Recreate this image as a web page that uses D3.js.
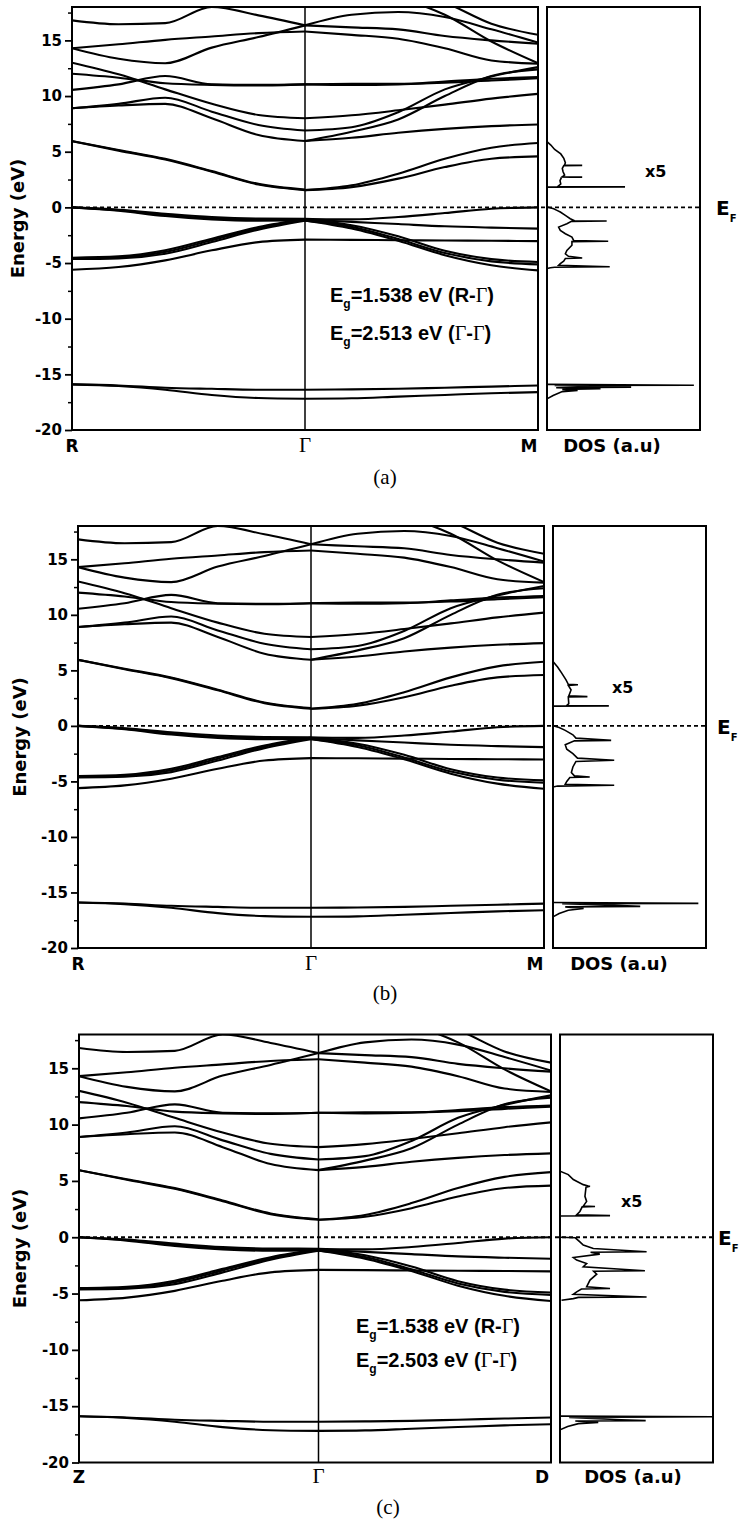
<!DOCTYPE html>
<html>
<head>
<meta charset="utf-8">
<script src="https://cdn.jsdelivr.net/npm/d3@7"></script>
<style>
  body { margin: 0; background: #fff; }
  svg { display: block; }
</style>
</head>
<body>
<svg id="chart" width="740" height="1526"></svg>
<script>
// ---- data ----
// k path: 0 = R (or Z), 1 = Gamma, 2 = M (or D)
var kLeft = [0, 0.2, 0.4, 0.6, 0.8, 1];
var kRight = [1, 1.2, 1.4, 1.6, 1.8, 2];

// bands R -> Gamma (eV)
var bandsLeft = [
  [16.8, 16.45, 16.55, 18.0, 17.25, 16.35],
  [14.3, 14.65, 15.05, 15.35, 15.65, 15.8],
  [14.3, 13.35, 12.95, 14.35, 15.3, 16.35],
  [13.0, 11.95, 10.6, 9.3, 8.3, 8.0],
  [12.0, 11.65, 11.15, 11.0, 10.95, 11.05],
  [10.55, 11.05, 11.8, 11.05, 11.0, 11.05],
  [8.9, 9.3, 9.85, 8.6, 7.4, 6.9],
  [8.9, 9.15, 9.3, 8.0, 6.5, 5.96],
  [5.95, 5.1, 4.3, 3.2, 2.05, 1.55],
  [5.95, 5.15, 4.36, 3.26, 2.11, 1.6],
  [0.0, -0.21, -0.57, -0.87, -1.0, -1.02],
  [0.0, -0.3, -0.78, -1.08, -1.2, -1.17],
  [0.0, -0.25, -0.68, -0.98, -1.1, -1.1],
  [-4.52, -4.4, -3.86, -2.81, -1.77, -1.05],
  [-4.64, -4.58, -4.16, -3.12, -2.0, -1.2],
  [-4.58, -4.5, -4.0, -2.95, -1.88, -1.12],
  [-5.6, -5.36, -4.76, -3.86, -3.12, -2.9],
  [-15.9, -16.0, -16.2, -16.3, -16.38, -16.38],
  [-15.9, -16.05, -16.38, -16.86, -17.13, -17.19]
];

// bands Gamma -> M (eV)
var bandsRight = [
  [16.35, 17.3, 17.55, 17.1, 16.0, 14.8],
  [15.8, 15.5, 15.15, 14.3, 13.2, 12.9],
  [16.35, 16.17, 15.99, 15.39, 15.0, 14.7],
  [19.8, 19.5, 18.8, 17.3, 14.9, 12.95],
  [20.5, 20.2, 19.6, 18.4, 16.5, 15.5],
  [11.05, 11.1, 11.1, 11.2, 11.4, 11.6],
  [11.05, 11.0, 11.05, 11.3, 11.55, 11.7],
  [8.0, 8.27, 8.72, 9.23, 9.77, 10.2],
  [6.9, 7.2, 8.55, 10.6, 11.75, 12.6],
  [5.96, 6.8, 7.9, 10.0, 11.8, 12.4],
  [5.96, 6.25, 6.7, 7.05, 7.3, 7.45],
  [1.55, 1.98, 3.03, 4.37, 5.36, 5.78],
  [1.55, 1.82, 2.58, 3.62, 4.37, 4.58],
  [-1.02, -1.08, -0.87, -0.51, -0.12, 0.0],
  [-1.1, -1.3, -1.5, -1.7, -1.82, -1.91],
  [-1.1, -1.6, -2.6, -3.9, -4.65, -4.91],
  [-1.2, -1.75, -2.85, -4.1, -4.85, -5.12],
  [-1.17, -1.9, -3.0, -4.3, -5.2, -5.66],
  [-2.9, -2.92, -2.95, -2.98, -3.0, -3.03],
  [-16.38, -16.35, -16.3, -16.2, -16.1, -16.0],
  [-17.19, -17.15, -17.0, -16.85, -16.7, -16.6]
];

// DOS curves, [energy, DOS in % of box width]
var dosCondA = [[5.9,0],[5.6,2.5],[5.2,5],[4.8,9],[4.4,11],[4.0,12],[3.8,11.5],[3.77,23],[3.75,11],[3.5,10],[3.2,10.5],[2.9,11.5],[2.75,10],[2.72,23],[2.7,9.5],[2.4,8.5],[2.1,9],[1.87,7],[1.84,51],[1.82,0]];
var dosValA = [[0.03,0],[-0.12,4.4],[-0.27,6.5],[-0.42,8.7],[-0.72,12],[-1.02,15.2],[-1.2,18],[-1.23,39],[-1.26,16],[-1.47,13],[-1.77,7.6],[-2.07,8.7],[-2.37,12],[-2.67,16.3],[-2.97,17.4],[-3.04,40],[-3.08,16.3],[-3.4,16.3],[-3.87,13],[-4.17,12],[-4.4,14],[-4.55,23],[-4.6,12],[-4.83,10.9],[-5.06,8.7],[-5.21,7.6],[-5.33,41],[-5.38,5],[-5.42,2.2],[-5.5,0]];
var dosCoreA = [[-15.9,0],[-15.98,96],[-16.0,5],[-16.1,30],[-16.15,55],[-16.2,6],[-16.3,35],[-16.35,10],[-16.45,20],[-16.55,10],[-16.9,4],[-17.2,0]];

var dosCondB = [[5.8,0],[5.3,3],[4.77,5.6],[4.14,8.5],[3.75,10],[3.7,16.3],[3.65,10],[3.24,11.8],[2.7,10.3],[2.64,22.5],[2.6,10],[2.0,10.3],[1.83,9],[1.8,36.5],[1.78,0]];
var dosValB = [[0.03,0],[-0.15,4],[-0.4,8],[-0.8,13],[-1.1,15],[-1.3,38],[-1.35,14],[-1.7,8],[-2.1,9],[-2.5,13],[-2.9,16],[-3.1,40],[-3.2,15],[-3.7,13],[-4.2,12],[-4.5,14],[-4.6,24],[-4.65,11],[-5.0,9],[-5.25,8],[-5.35,40],[-5.42,3],[-5.5,0]];
var dosCoreB = [[-15.9,0],[-15.98,95],[-16.02,6],[-16.15,40],[-16.25,57],[-16.3,8],[-16.45,20],[-16.6,10],[-16.9,4],[-17.2,0]];

var dosCondC = [[5.86,0],[5.56,5.4],[5.12,8.7],[4.67,15.2],[4.55,18.5],[4.52,19.6],[4.45,17],[3.63,16.3],[3.18,17.4],[2.76,15.2],[2.73,22.9],[2.7,14.5],[2.29,13],[1.99,10.9],[1.92,32.7],[1.88,0]];
var dosValC = [[0.0,0],[-0.05,10],[-0.41,13],[-0.7,15.2],[-1.0,21.8],[-1.29,56.6],[-1.33,20],[-1.5,26],[-1.8,8.7],[-2.03,10.9],[-2.33,17.4],[-2.62,15.2],[-2.98,55.5],[-3.02,22],[-3.28,24],[-3.8,19.6],[-4.4,17.4],[-4.55,32.7],[-4.6,14],[-4.85,10.9],[-5.06,8.7],[-5.3,56.6],[-5.34,12],[-5.45,8.7],[-5.6,1]];
var dosCoreC = [[-15.88,0],[-15.94,100],[-16.0,6],[-16.2,40],[-16.28,56],[-16.32,10],[-16.45,25],[-16.55,12],[-16.8,5],[-17.1,0]];

var yTicks = [-20, -15, -10, -5, 0, 5, 10, 15];
var yMinor = [-17.5, -12.5, -7.5, -2.5, 2.5, 7.5, 12.5, 17.5];

var labelsA = ["R", "\u0393", "M"];
var labelsB = ["R", "\u0393", "M"];
var labelsC = ["Z", "\u0393", "D"];
var egA = ["1.538 eV (R-\u0393)", "2.513 eV (\u0393-\u0393)"];
var egC = ["1.538 eV (R-\u0393)", "2.503 eV (\u0393-\u0393)"];
var tags = ["(a)", "(b)", "(c)"];

// ---- layout ----
var SANS = "'DejaVu Sans', sans-serif";
var ARIAL = "'Liberation Sans', Arial, sans-serif";
var SERIF = "'Liberation Serif', 'Times New Roman', serif";
var INK = "#000";

var panels = [
  {labels: labelsA, eg: egA, dos: [dosCondA, dosValA, dosCoreA],
   left: 72, gamma: 305, right: 538, dosL: 547, dosR: 700, top: 7, bottom: 430,
   yLabelX: 18, kLabelY: 452, tagX: 385, tagY: 484, dosLabelX: 612,
   efX: 716, x5: [645, 177], egX: 330, egY: [301.5, 339.5]},
  {labels: labelsB, eg: null, dos: [dosCondB, dosValB, dosCoreB],
   left: 78, gamma: 311, right: 544, dosL: 553, dosR: 706, top: 526, bottom: 948,
   yLabelX: 20, kLabelY: 970, tagX: 385, tagY: 1000, dosLabelX: 619,
   efX: 717, x5: [612, 693]},
  {labels: labelsC, eg: egC, dos: [dosCondC, dosValC, dosCoreC],
   left: 79, gamma: 318.5, right: 551, dosL: 560, dosR: 713, top: 1034.5, bottom: 1462.5,
   yLabelX: 20, kLabelY: 1483, tagX: 388, tagY: 1514, dosLabelX: 633,
   efX: 718, x5: [621, 1207], egX: 356, egY: [1333, 1367]}
];

var svg = d3.select("#chart");
var defs = svg.append("defs");

function drawEg(g, x, yb, s) {
  var t = g.append("text").attr("x", x).attr("y", yb).attr("fill", INK)
    .attr("font-family", ARIAL).attr("font-weight", "bold").attr("font-size", 20);
  t.append("tspan").text("E");
  t.append("tspan").attr("font-size", 12).attr("dy", 6).text("g");
  var parts = s.split("\u0393");
  t.append("tspan").attr("dy", -6).text("=" + parts[0]);
  for (var k = 1; k < parts.length; k++) {
    t.append("tspan").attr("font-family", SERIF).attr("font-weight", "normal").text("\u0393");
    t.append("tspan").text(parts[k]);
  }
}

panels.forEach(function(p, i) {
  var g = svg.append("g");

  var x = d3.scaleLinear().domain([0, 1, 2]).range([p.left, p.gamma, p.right]);
  var y = d3.scaleLinear().domain([-20, 18]).range([p.bottom, p.top]);
  var xd = d3.scaleLinear().domain([0, 100]).range([p.dosL, p.dosR]);

  defs.append("clipPath").attr("id", "band" + i).append("rect")
    .attr("x", p.left).attr("y", p.top)
    .attr("width", p.right - p.left).attr("height", p.bottom - p.top);
  defs.append("clipPath").attr("id", "dos" + i).append("rect")
    .attr("x", p.dosL).attr("y", p.top)
    .attr("width", p.dosR - p.dosL).attr("height", p.bottom - p.top);

  // bands
  var line = d3.line().curve(d3.curveMonotoneX);
  var bg = g.append("g").attr("clip-path", "url(#band" + i + ")")
    .attr("fill", "none").attr("stroke", INK).attr("stroke-width", 2.1)
    .attr("stroke-linejoin", "round");
  bandsLeft.forEach(function(b) {
    bg.append("path").attr("d", line(b.map(function(e, j) { return [x(kLeft[j]), y(e)]; })));
  });
  bandsRight.forEach(function(b) {
    bg.append("path").attr("d", line(b.map(function(e, j) { return [x(kRight[j]), y(e)]; })));
  });

  // DOS
  var dline = d3.line().x(function(d) { return xd(d[1]); }).y(function(d) { return y(d[0]); });
  var dg = g.append("g").attr("clip-path", "url(#dos" + i + ")")
    .attr("fill", "none").attr("stroke", INK).attr("stroke-width", 1.6);
  p.dos.forEach(function(seg) { dg.append("path").attr("d", dline(seg)); });

  // Fermi level
  g.append("line").attr("x1", p.left).attr("x2", p.dosR).attr("y1", y(0)).attr("y2", y(0))
    .attr("stroke", INK).attr("stroke-width", 1.8).attr("stroke-dasharray", "4,3");

  // Gamma line and frames
  g.append("line").attr("x1", x(1)).attr("x2", x(1)).attr("y1", p.top).attr("y2", p.bottom)
    .attr("stroke", INK).attr("stroke-width", 1.5);
  g.append("rect").attr("x", p.left).attr("y", p.top)
    .attr("width", p.right - p.left).attr("height", p.bottom - p.top)
    .attr("fill", "none").attr("stroke", INK).attr("stroke-width", 2);
  g.append("rect").attr("x", p.dosL).attr("y", p.top)
    .attr("width", p.dosR - p.dosL).attr("height", p.bottom - p.top)
    .attr("fill", "none").attr("stroke", INK).attr("stroke-width", 2);

  // y axis
  var ax = g.append("g").attr("transform", "translate(" + p.left + ",0)")
    .call(d3.axisLeft(y).tickValues(yTicks).tickSize(7).tickPadding(3)
      .tickFormat(function(d) { return String(d); }));
  ax.select(".domain").remove();
  ax.selectAll("line").attr("stroke", INK).attr("stroke-width", 1.8);
  ax.selectAll("text").attr("font-family", SANS).attr("font-weight", "bold")
    .attr("font-size", 15).attr("fill", INK);
  var axm = g.append("g").attr("transform", "translate(" + p.left + ",0)")
    .call(d3.axisLeft(y).tickValues(yMinor).tickSize(4).tickFormat(""));
  axm.select(".domain").remove();
  axm.selectAll("line").attr("stroke", INK).attr("stroke-width", 1.5);

  var ymid = (p.top + p.bottom) / 2;
  g.append("text").attr("transform", "translate(" + (p.yLabelX + 6) + "," + ymid + ") rotate(-90)")
    .attr("text-anchor", "middle").attr("font-family", SANS).attr("font-weight", "bold")
    .attr("font-size", 18).attr("fill", INK).text("Energy (eV)");

  // k labels
  g.append("text").attr("x", x(0)).attr("y", p.kLabelY).attr("text-anchor", "middle").attr("fill", INK)
    .attr("font-family", SANS).attr("font-weight", "bold").attr("font-size", 17).text(p.labels[0]);
  g.append("text").attr("x", x(1)).attr("y", p.kLabelY).attr("text-anchor", "middle").attr("fill", INK)
    .attr("font-family", SERIF).attr("font-size", 21).text(p.labels[1]);
  g.append("text").attr("x", x(2) - 9).attr("y", p.kLabelY).attr("text-anchor", "middle").attr("fill", INK)
    .attr("font-family", SANS).attr("font-weight", "bold").attr("font-size", 17).text(p.labels[2]);
  g.append("text").attr("x", p.dosLabelX).attr("y", p.kLabelY).attr("text-anchor", "middle").attr("fill", INK)
    .attr("font-family", SANS).attr("font-weight", "bold").attr("font-size", 18).text("DOS (a.u)");

  // E_F and x5
  var ef = g.append("text").attr("x", p.efX).attr("y", y(0) + 8).attr("fill", INK)
    .attr("font-family", SANS).attr("font-weight", "bold").attr("font-size", 20);
  ef.append("tspan").text("E");
  ef.append("tspan").attr("font-size", 10).attr("dy", 7).text("F");
  g.append("text").attr("x", p.x5[0]).attr("y", p.x5[1]).attr("fill", INK)
    .attr("font-family", SANS).attr("font-weight", "bold").attr("font-size", 16).text("x5");

  if (p.eg) {
    drawEg(g, p.egX, p.egY[0], p.eg[0]);
    drawEg(g, p.egX, p.egY[1], p.eg[1]);
  }

  g.append("text").attr("x", p.tagX).attr("y", p.tagY).attr("text-anchor", "middle").attr("fill", INK)
    .attr("font-family", SERIF).attr("font-size", 21).text(tags[i]);
});
</script>
</body>
</html>
